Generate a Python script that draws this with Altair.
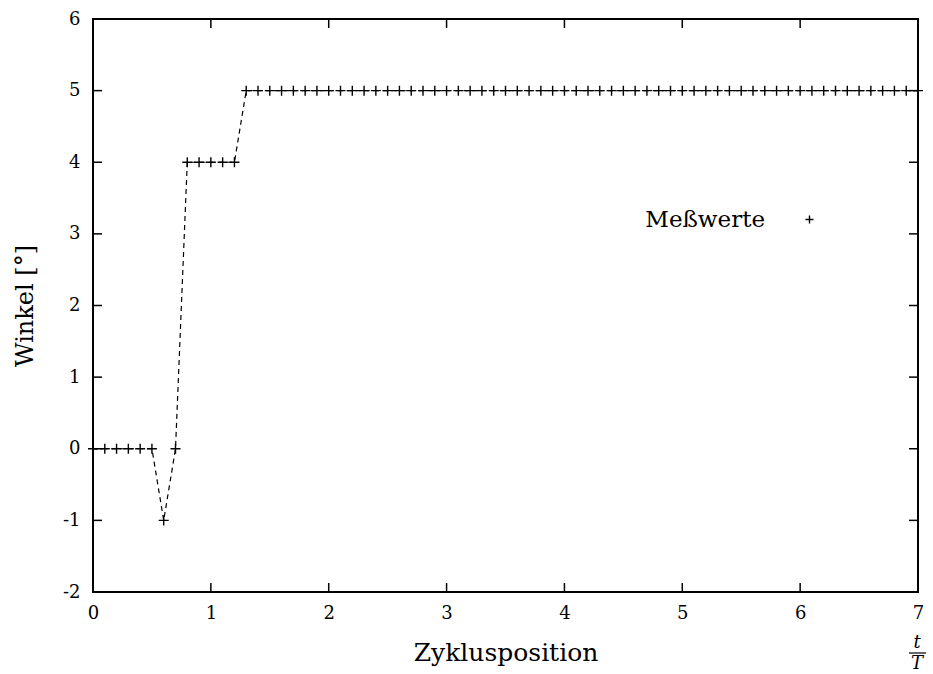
import altair as alt
import pandas as pd

# measurement positions (t/T) and measured angles
t_vals = [0.0, 0.1, 0.2, 0.3, 0.4, 0.5, 0.6, 0.7, 0.8, 0.9,
          1.0, 1.1, 1.2, 1.3, 1.4, 1.5, 1.6, 1.7, 1.8, 1.9,
          2.0, 2.1, 2.2, 2.3, 2.4, 2.5, 2.6, 2.7, 2.8, 2.9,
          3.0, 3.1, 3.2, 3.3, 3.4, 3.5, 3.6, 3.7, 3.8, 3.9,
          4.0, 4.1, 4.2, 4.3, 4.4, 4.5, 4.6, 4.7, 4.8, 4.9,
          5.0, 5.1, 5.2, 5.3, 5.4, 5.5, 5.6, 5.7, 5.8, 5.9,
          6.0, 6.1, 6.2, 6.3, 6.4, 6.5, 6.6, 6.7, 6.8, 6.9,
          7.0]
w_vals = [0, 0, 0, 0, 0, 0, -1, 0, 4, 4,
          4, 4, 4, 5, 5, 5, 5, 5, 5, 5,
          5, 5, 5, 5, 5, 5, 5, 5, 5, 5,
          5, 5, 5, 5, 5, 5, 5, 5, 5, 5,
          5, 5, 5, 5, 5, 5, 5, 5, 5, 5,
          5, 5, 5, 5, 5, 5, 5, 5, 5, 5,
          5, 5, 5, 5, 5, 5, 5, 5, 5, 5,
          5]
series_name = "Meßwerte"
x_ticks = [0, 1, 2, 3, 4, 5, 6, 7]
y_ticks = [-2, -1, 0, 1, 2, 3, 4, 5, 6]

W, H = 825, 573
FONT = "DejaVu Serif"
TICK = 9

df = pd.DataFrame({"t": t_vals, "w": w_vals, "series": [series_name] * len(t_vals)})
xt = pd.DataFrame({"v": x_ticks})
yt = pd.DataFrame({"v": y_ticks})

xscale = alt.Scale(domain=[0, 7], nice=False, zero=False)
yscale = alt.Scale(domain=[-2, 6], nice=False, zero=False)

x_enc = alt.X("t:Q", scale=xscale, axis=alt.Axis(
    title="Zyklusposition", values=x_ticks, labelExpr="toString(datum.value)",
    ticks=False, domain=False, grid=False,
    labelFont=FONT, labelFontSize=18, labelPadding=12, labelColor="black", labelFlush=False,
    titleFont=FONT, titleFontSize=25, titleFontWeight="normal", titleColor="black", titlePadding=18))
y_enc = alt.Y("w:Q", scale=yscale, axis=alt.Axis(
    title="Winkel [°]", values=y_ticks, labelExpr="toString(datum.value)",
    ticks=False, domain=False, grid=False,
    labelFont=FONT, labelFontSize=18, labelPadding=13, labelColor="black", labelFlush=False,
    titleFont=FONT, titleFontSize=24, titleFontWeight="normal", titleColor="black", titlePadding=25))

line = alt.Chart(df).mark_line(color="black", strokeDash=[5, 4], strokeWidth=1.2).encode(x=x_enc, y=y_enc)

plus_path = "M-1,0L1,0M0,-1L0,1"
points = alt.Chart(df).mark_point(filled=False, size=100, strokeWidth=1.4, color="black", opacity=1).encode(
    x=alt.X("t:Q", scale=xscale),
    y=alt.Y("w:Q", scale=yscale),
    shape=alt.Shape("series:N", scale=alt.Scale(range=[plus_path]), legend=alt.Legend(
        title=None, orient="none", legendX=705, legendY=189, padding=0,
        symbolSize=64, symbolStrokeColor="black", symbolFillColor="transparent", symbolStrokeWidth=1.4,
        labelFont=FONT, labelFontSize=23, labelColor="black", labelAlign="right",
        labelOffset={"expr": "-56"}, labelLimit=300)),
)

xt_bottom = alt.Chart(xt).mark_rule(color="black", strokeWidth=1.5).encode(
    x=alt.X("v:Q", scale=xscale), y=alt.value(H), y2=alt.value(H - TICK))
xt_top = alt.Chart(xt).mark_rule(color="black", strokeWidth=1.5).encode(
    x=alt.X("v:Q", scale=xscale), y=alt.value(0), y2=alt.value(TICK))
yt_left = alt.Chart(yt).mark_rule(color="black", strokeWidth=1.5).encode(
    y=alt.Y("v:Q", scale=yscale), x=alt.value(0), x2=alt.value(TICK))
yt_right = alt.Chart(yt).mark_rule(color="black", strokeWidth=1.5).encode(
    y=alt.Y("v:Q", scale=yscale), x=alt.value(W), x2=alt.value(W - TICK))

frac = pd.DataFrame({"v": [7, 7], "lab": ["t", "T"], "dy": [H + 51, H + 72]})
frac_text = alt.Chart(frac).mark_text(font=FONT, fontSize=18, fontStyle="italic", color="black",
                                      baseline="middle", xOffset=-1, clip=False).encode(
    x=alt.X("v:Q", scale=xscale), y=alt.Y("dy:Q", scale=None), text="lab:N")
frac_bar = alt.Chart(pd.DataFrame({"v": [7]})).mark_rule(color="black", strokeWidth=1.2,
                                                           xOffset=-9, x2Offset=8).encode(
    x=alt.X("v:Q", scale=xscale), x2="v:Q", y=alt.value(H + 61))

chart = alt.layer(line, points, xt_bottom, xt_top, yt_left, yt_right, frac_text, frac_bar).properties(
    width=W, height=H, autosize=alt.AutoSizeParams(type="none"),
    padding={"left": 93, "top": 19, "right": 15, "bottom": 82},
    background="white",
).configure_view(stroke="black", strokeWidth=2)

chart.save("out.html", embed_options={"renderer": "svg", "actions": False})
